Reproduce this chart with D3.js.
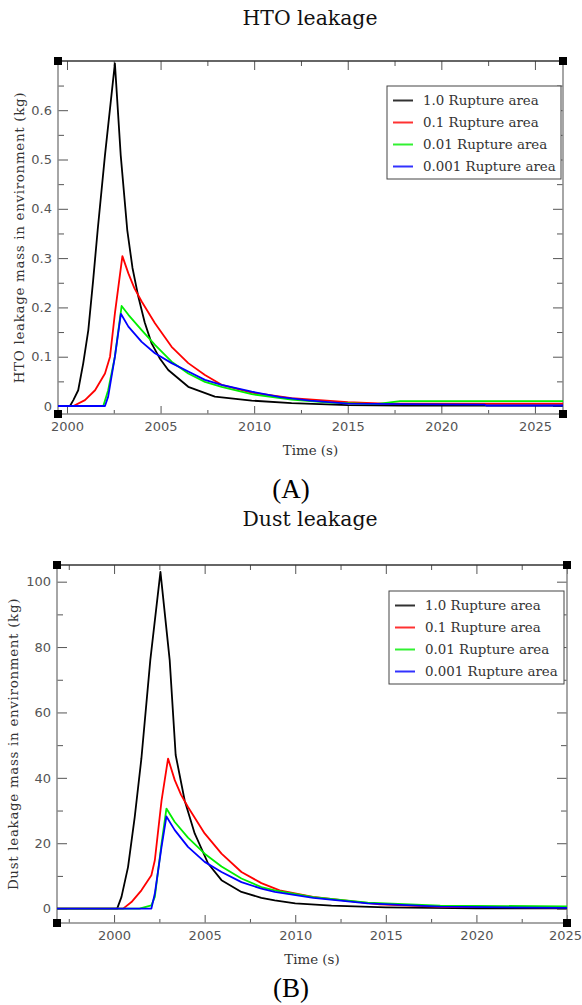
<!DOCTYPE html>
<html>
<head>
<meta charset="utf-8">
<script src="https://cdn.jsdelivr.net/npm/d3@7"></script>
<style>
body { margin:0; background:#fff; }
.bs_tick text { font-family:"DejaVu Sans"; font-size:13px; fill:#555; }
.bs_tick line { stroke:#555; stroke-width:1; }
.bs_tick path { display:none; }
.bs_label { font-family:"DejaVu Serif"; font-size:13.4px; fill:#333; }
.bs_ylabel { font-family:"DejaVu Serif"; font-size:13.4px; fill:#333; letter-spacing:0.7px; }
.bs_title { font-family:"DejaVu Serif"; font-size:20.4px; fill:#111; }
.bs_panel { font-family:"Liberation Serif"; font-size:27px; fill:#000; }
</style>
</head>
<body>
<div id="chart"></div>
<script>
// series names + colours
var seriesNames = ["1.0 Rupture area", "0.1 Rupture area", "0.01 Rupture area", "0.001 Rupture area"];
var seriesColors = ["#000000", "#ff0000", "#00ee00", "#0000ff"];

// (A) HTO leakage, [time, kg]
var htoBlack = [[1999.52,0],[2000.16,0],[2000.34,0.012],[2000.6,0.032],[2000.87,0.087],[2001.14,0.154],[2001.4,0.256],[2001.64,0.357],[2002.03,0.509],[2002.56,0.695],[2002.87,0.509],[2003.22,0.357],[2003.5,0.28],[2003.81,0.222],[2004.15,0.17],[2004.52,0.127],[2004.95,0.097],[2005.41,0.073],[2006.48,0.039],[2007.9,0.019],[2009.87,0.011],[2012,0.006],[2015,0.002],[2018,0.001],[2026.5,0.001]];
var htoRed = [[1999.52,0],[2000.34,0],[2000.96,0.012],[2001.5,0.032],[2002.03,0.066],[2002.3,0.1],[2002.56,0.188],[2002.96,0.304],[2003.28,0.269],[2003.6,0.239],[2003.99,0.212],[2004.7,0.168],[2005.59,0.12],[2006.48,0.087],[2007.37,0.063],[2008.26,0.043],[2009.87,0.027],[2012,0.016],[2015,0.008],[2017,0.005],[2026.5,0.005]];
var htoGreen = [[1999.52,0],[2001.94,0],[2002.2,0.032],[2002.56,0.1],[2002.92,0.203],[2003.28,0.185],[2003.99,0.154],[2004.7,0.124],[2005.59,0.09],[2006.48,0.066],[2007.37,0.049],[2008.26,0.039],[2009.87,0.024],[2012,0.013],[2014,0.007],[2016.5,0.004],[2017.8,0.01],[2026.5,0.01]];
var htoBlue = [[1999.52,0],[2002.03,0],[2002.2,0.019],[2002.56,0.1],[2002.88,0.187],[2003.28,0.161],[2003.99,0.13],[2004.7,0.107],[2005.59,0.087],[2006.48,0.07],[2007.37,0.053],[2008.26,0.043],[2009.87,0.029],[2011.4,0.018],[2013,0.011],[2015,0.005],[2018,0.004],[2022.3,0.003],[2022.4,0.001],[2026.5,0.001]];

// (B) Dust leakage, [time, kg]
var dustBlack = [[1996.85,0],[2000.17,0],[2000.41,3.6],[2000.77,12.7],[2001.14,28],[2001.51,46],[2002.0,76],[2002.56,103],[2003.07,76],[2003.4,47],[2003.9,33],[2004.45,23],[2005.19,13.8],[2005.93,8.7],[2007.03,5.1],[2008.13,3.3],[2008.87,2.5],[2010,1.6],[2012,0.9],[2015,0.4],[2020,0.1],[2025,0.1]];
var dustRed = [[1996.85,0],[2000.5,0],[2000.96,2],[2001.51,5.6],[2002.06,10.2],[2002.25,14.8],[2002.62,33],[2002.98,45.9],[2003.35,39.3],[2003.7,34.8],[2004.08,31.1],[2005.0,23],[2005.93,16.8],[2007.03,11.2],[2008.13,7.8],[2009.14,5.6],[2010.98,3.6],[2014.66,1.3],[2018.34,0.5],[2025,0.4]];
var dustGreen = [[1996.85,0],[2001.4,0],[2002.06,1],[2002.25,3.6],[2002.62,19.9],[2002.89,30.6],[2003.35,26.5],[2004.08,21.7],[2005.0,16.8],[2005.93,12.9],[2007.03,9.2],[2008.13,6.6],[2008.87,5.6],[2011,3.5],[2014,1.8],[2018,0.9],[2025,0.7]];
var dustBlue = [[1996.85,0],[2002.06,0],[2002.25,4.6],[2002.62,18.9],[2002.89,28.2],[2003.35,24],[2004.08,18.9],[2005.0,14.3],[2005.93,11.2],[2007.03,8.1],[2008.13,6.1],[2008.87,5.1],[2011,3.3],[2014,1.6],[2018,0.6],[2025,0.2]];

// tick values
var xMajor = [2000, 2005, 2010, 2015, 2020, 2025];
var xMinorA = [2002.5, 2007.5, 2012.5, 2017.5, 2022.5];
var xMinorB = [1997.5, 2002.5, 2007.5, 2012.5, 2017.5, 2022.5];
var htoYMajor = [0, 0.1, 0.2, 0.3, 0.4, 0.5, 0.6];
var htoYMinor = [0.05, 0.15, 0.25, 0.35, 0.45, 0.55, 0.65];
var dustYMajor = [0, 20, 40, 60, 80, 100];
var dustYMinor = [10, 30, 50, 70, 90];

var svg = d3.select("#chart").append("svg").attr("width", 582).attr("height", 1005);

function leakPanel(o)
{
    var x = d3.scaleLinear().domain(o.xDomain).range([o.left, o.right]);
    var y = d3.scaleLinear().domain(o.yDomain).range([o.bottom, o.top]);
    var w = o.right - o.left, h = o.bottom - o.top;
    var g = svg.append("g");

    // title + axis titles
    g.append("text").attr("class", "bs_title").attr("x", o.titleX).attr("y", o.titleY)
        .attr("text-anchor", "middle").text(o.title);
    g.append("text").attr("class", "bs_label").attr("x", (o.left + o.right) / 2).attr("y", o.bottom + 41)
        .attr("text-anchor", "middle").text("Time (s)");
    g.append("text").attr("class", "bs_ylabel")
        .attr("transform", "translate(" + o.yLabelX + "," + ((o.top + o.bottom) / 2) + ") rotate(-90)")
        .attr("text-anchor", "middle").attr("dy", "0.35em").text(o.yLabel);
    g.append("text").attr("class", "bs_panel").attr("x", o.panelX).attr("y", o.panelY)
        .attr("text-anchor", "middle").text(o.panel);

    // ticks (all pointing inward)
    var xAx = g.append("g").attr("class", "bs_tick").attr("transform", "translate(0," + o.bottom + ")")
        .call(d3.axisBottom(x).tickValues(xMajor).tickSize(-8).tickPadding(8).tickFormat(d3.format("d")));
    // last label sits on the page edge, nudge it in a bit
    if (x(xMajor[xMajor.length - 1]) + 17 > 582)
        xAx.selectAll("text").filter(function(d) { return d === xMajor[xMajor.length - 1]; })
            .attr("dx", 582 - 17 - x(xMajor[xMajor.length - 1]));
    g.append("g").attr("class", "bs_tick").attr("transform", "translate(0," + o.bottom + ")")
        .call(d3.axisBottom(x).tickValues(o.xMinor).tickSize(-4).tickFormat(""));
    g.append("g").attr("class", "bs_tick").attr("transform", "translate(0," + o.top + ")")
        .call(d3.axisTop(x).tickValues(xMajor).tickSize(-9).tickFormat(""));
    g.append("g").attr("class", "bs_tick").attr("transform", "translate(0," + o.top + ")")
        .call(d3.axisTop(x).tickValues(o.xMinor).tickSize(-5).tickFormat(""));
    g.append("g").attr("class", "bs_tick").attr("transform", "translate(" + o.left + ",0)")
        .call(d3.axisLeft(y).tickValues(o.yMajor).tickSize(-10).tickPadding(6).tickFormat(o.yFormat));
    g.append("g").attr("class", "bs_tick").attr("transform", "translate(" + o.left + ",0)")
        .call(d3.axisLeft(y).tickValues(o.yMinor).tickSize(-6).tickFormat(""));
    g.append("g").attr("class", "bs_tick").attr("transform", "translate(" + o.right + ",0)")
        .call(d3.axisRight(y).tickValues(o.yMajor).tickSize(-10).tickFormat(""));
    g.append("g").attr("class", "bs_tick").attr("transform", "translate(" + o.right + ",0)")
        .call(d3.axisRight(y).tickValues(o.yMinor).tickSize(-6).tickFormat(""));

    // frame
    g.append("line").attr("x1", o.left).attr("x2", o.right).attr("y1", o.top).attr("y2", o.top)
        .attr("stroke", "#333").attr("stroke-width", 1.3);
    g.append("line").attr("x1", o.left).attr("x2", o.right).attr("y1", o.bottom).attr("y2", o.bottom)
        .attr("stroke", "#888").attr("stroke-width", 1.5);
    g.append("line").attr("x1", o.left).attr("x2", o.left).attr("y1", o.top).attr("y2", o.bottom)
        .attr("stroke", "#888").attr("stroke-width", 1.5);
    g.append("line").attr("x1", o.right).attr("x2", o.right).attr("y1", o.top).attr("y2", o.bottom)
        .attr("stroke", "#888").attr("stroke-width", 1.5);

    var clipId = "clip" + o.panel.replace(/\W/g, "");
    g.append("clipPath").attr("id", clipId).append("rect")
        .attr("x", o.left).attr("y", o.top).attr("width", w).attr("height", h);

    var line = d3.line()
        .x(function(d) { return x(d[0]); })
        .y(function(d) { return y(d[1]); });

    g.append("g").attr("clip-path", "url(#" + clipId + ")")
        .selectAll("path").data(o.series).enter().append("path")
        .attr("d", line)
        .attr("fill", "none")
        .attr("stroke", function(d, i) { return seriesColors[i]; })
        .attr("stroke-width", 1.8)
        .attr("stroke-linejoin", "round");

    // corner squares
    var corners = [[o.left, o.top], [o.right, o.top], [o.left, o.bottom], [o.right, o.bottom]];
    g.selectAll(".bs_corner").data(corners).enter().append("rect")
        .attr("x", function(d) { return d[0] - 4; }).attr("y", function(d) { return d[1] - 4; })
        .attr("width", 8).attr("height", 8).attr("fill", "#000");

    // legend
    var lg = g.append("g").attr("transform", "translate(" + o.legX + "," + o.legY + ")");
    lg.append("rect").attr("width", o.legW).attr("height", 93)
        .attr("fill", "#fff").attr("stroke", "#444").attr("stroke-width", 1);
    seriesNames.forEach(function(name, i) {
        var yy = 14.5 + i * 22;
        lg.append("line").attr("x1", 6).attr("x2", 26).attr("y1", yy).attr("y2", yy)
            .attr("stroke", seriesColors[i]).attr("stroke-width", 2).attr("opacity", 0.8);
        lg.append("text").attr("class", "bs_label").attr("x", 36).attr("y", yy).attr("dy", "0.35em").text(name);
    });
}

leakPanel({
    title: "HTO leakage", titleX: 310, titleY: 25,
    panel: "(A)", panelX: 291, panelY: 498,
    yLabel: "HTO leakage mass in environment (kg)", yLabelX: 19,
    left: 58, right: 563, top: 61, bottom: 414,
    xDomain: [1999.52, 2026.5], yDomain: [-0.0162, 0.6998],
    xMinor: xMinorA, yMajor: htoYMajor, yMinor: htoYMinor,
    yFormat: function(d) { return d === 0 ? "0" : d3.format(".1f")(d); },
    series: [htoBlack, htoRed, htoGreen, htoBlue],
    legX: 387, legY: 86, legW: 174
});

leakPanel({
    title: "Dust leakage", titleX: 310, titleY: 526,
    panel: "(B)", panelX: 291, panelY: 997,
    yLabel: "Dust leakage mass in environment (kg)", yLabelX: 13,
    left: 57, right: 567, top: 565, bottom: 923,
    xDomain: [1996.85, 2025], yDomain: [-4.4, 105.1],
    xMinor: xMinorB, yMajor: dustYMajor, yMinor: dustYMinor,
    yFormat: d3.format("d"),
    series: [dustBlack, dustRed, dustGreen, dustBlue],
    legX: 389, legY: 591, legW: 175
});
</script>
</body>
</html>
